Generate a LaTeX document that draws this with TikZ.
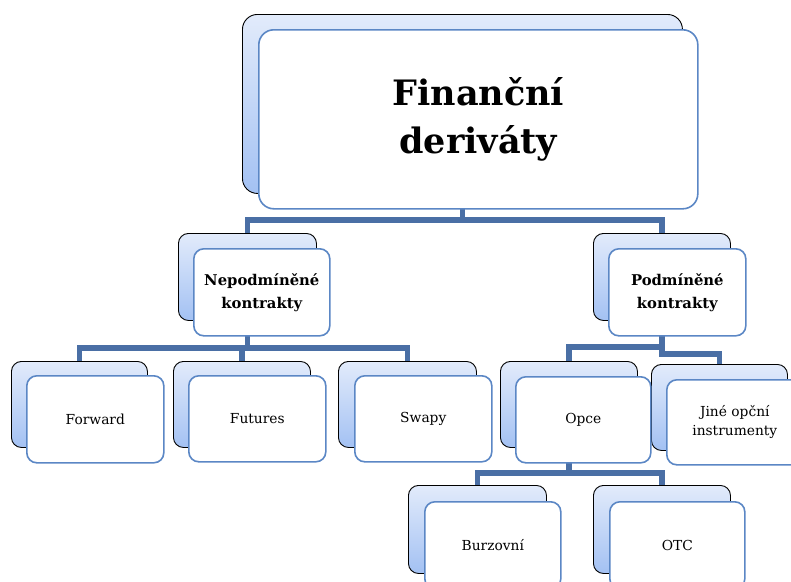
\documentclass[tikz,border=0pt]{standalone}
\usepackage{fontspec}
\setmainfont{DejaVu Serif}
\definecolor{conncol}{HTML}{4A6FA5}
\definecolor{frontcol}{HTML}{5B87C5}
\definecolor{gradtop}{HTML}{E2EBFB}
\definecolor{gradbot}{HTML}{A3C1F3}
\pgfdeclarelayer{bg}
\pgfsetlayers{bg,main}
\tikzset{
  conn/.style={draw=conncol, line width=5.5pt, line join=miter},
  backbox/.style={draw=black, line width=0.9pt, rounded corners=10pt,
    top color=gradtop, bottom color=gradbot, anchor=north west, inner sep=0pt},
  frontbox/.style={draw=frontcol, line width=1.6pt, rounded corners=10pt,
    fill=white, anchor=north west, inner sep=0pt, align=center,
    font=\fontsize{13.8}{19}\selectfont},
  boldtext/.style={font=\fontsize{14.8}{23}\selectfont\bfseries},
  titletext/.style={rounded corners=15pt, font=\fontsize{35}{50}\selectfont\bfseries},
}
\begin{document}
\begin{tikzpicture}[x=1pt,y=-1pt]
\useasboundingbox (0,0) rectangle (791,581);
\clip (0,0) rectangle (791,581);
% back boxes
\path
  (242,14)  node[backbox, rounded corners=15pt, minimum width=440pt, minimum height=179pt] (topb) {}
  (178,233) node[backbox, minimum width=138pt, minimum height=87pt] (nepb) {}
  (593,233) node[backbox, minimum width=137pt, minimum height=87pt] (podb) {}
  (11,361)  node[backbox, minimum width=136pt, minimum height=86pt] (forb) {}
  (173,361) node[backbox, minimum width=137pt, minimum height=86pt] (futb) {}
  (338,361) node[backbox, minimum width=138pt, minimum height=86pt] (swab) {}
  (500,361) node[backbox, minimum width=137pt, minimum height=86pt] (opcb) {}
  (651,364) node[backbox, minimum width=136pt, minimum height=86pt] (jinb) {}
  (408,485) node[backbox, minimum width=138pt, minimum height=88pt] (burb) {}
  (593,485) node[backbox, minimum width=137pt, minimum height=88pt] (otcb) {};
% front boxes
\path
  (258,29)  node[frontbox, titletext, minimum width=439pt, minimum height=179pt] (topf) {Finanční\\[-2pt] deriváty}
  (193,248) node[frontbox, boldtext, minimum width=136pt, minimum height=87pt] (nepf) {Nepodmíněné\\kontrakty}
  (608,248) node[frontbox, boldtext, minimum width=137pt, minimum height=87pt] (podf) {Podmíněné\\kontrakty}
  (26,375)  node[frontbox, minimum width=137pt, minimum height=87pt] (forf) {Forward}
  (188,375) node[frontbox, minimum width=137pt, minimum height=86pt] (futf) {Futures}
  (354,375) node[frontbox, minimum width=137pt, minimum height=86pt] (swaf) {Swapy}
  (515,376) node[frontbox, minimum width=135pt, minimum height=86pt] (opcf) {Opce}
  (666,379) node[frontbox, minimum width=136pt, minimum height=85pt] (jinf) {Jiné opční\\instrumenty}
  (424,501) node[frontbox, minimum width=136pt, minimum height=87pt] (burf) {Burzovní}
  (609,501) node[frontbox, minimum width=135pt, minimum height=87pt] (otcf) {OTC};
% connectors
\begin{pgfonlayer}{bg}
\fill[white] (0,0) rectangle (791,581);
\draw[conn] (topb.center) -- (topb.center |- 0,220) -| (nepb.center);
\draw[conn] (topb.center |- 0,220) -| (podb.center);
\draw[conn] (nepb.center) -- (nepb.center |- 0,348) -| (forb.center);
\draw[conn] (nepb.center |- 0,348) -| (futb.center);
\draw[conn] (nepb.center |- 0,348) -| (swab.center);
\draw[conn] (podb.center) -- (podb.center |- 0,347) -| (opcb.center);
\draw[conn] (podb.center |- 0,347) -- (podb.center |- 0,354) -| (jinb.center);
\draw[conn] (opcb.center) -- (opcb.center |- 0,473) -| (burb.center);
\draw[conn] (opcb.center |- 0,473) -| (otcb.center);
\end{pgfonlayer}
\end{tikzpicture}
\end{document}
